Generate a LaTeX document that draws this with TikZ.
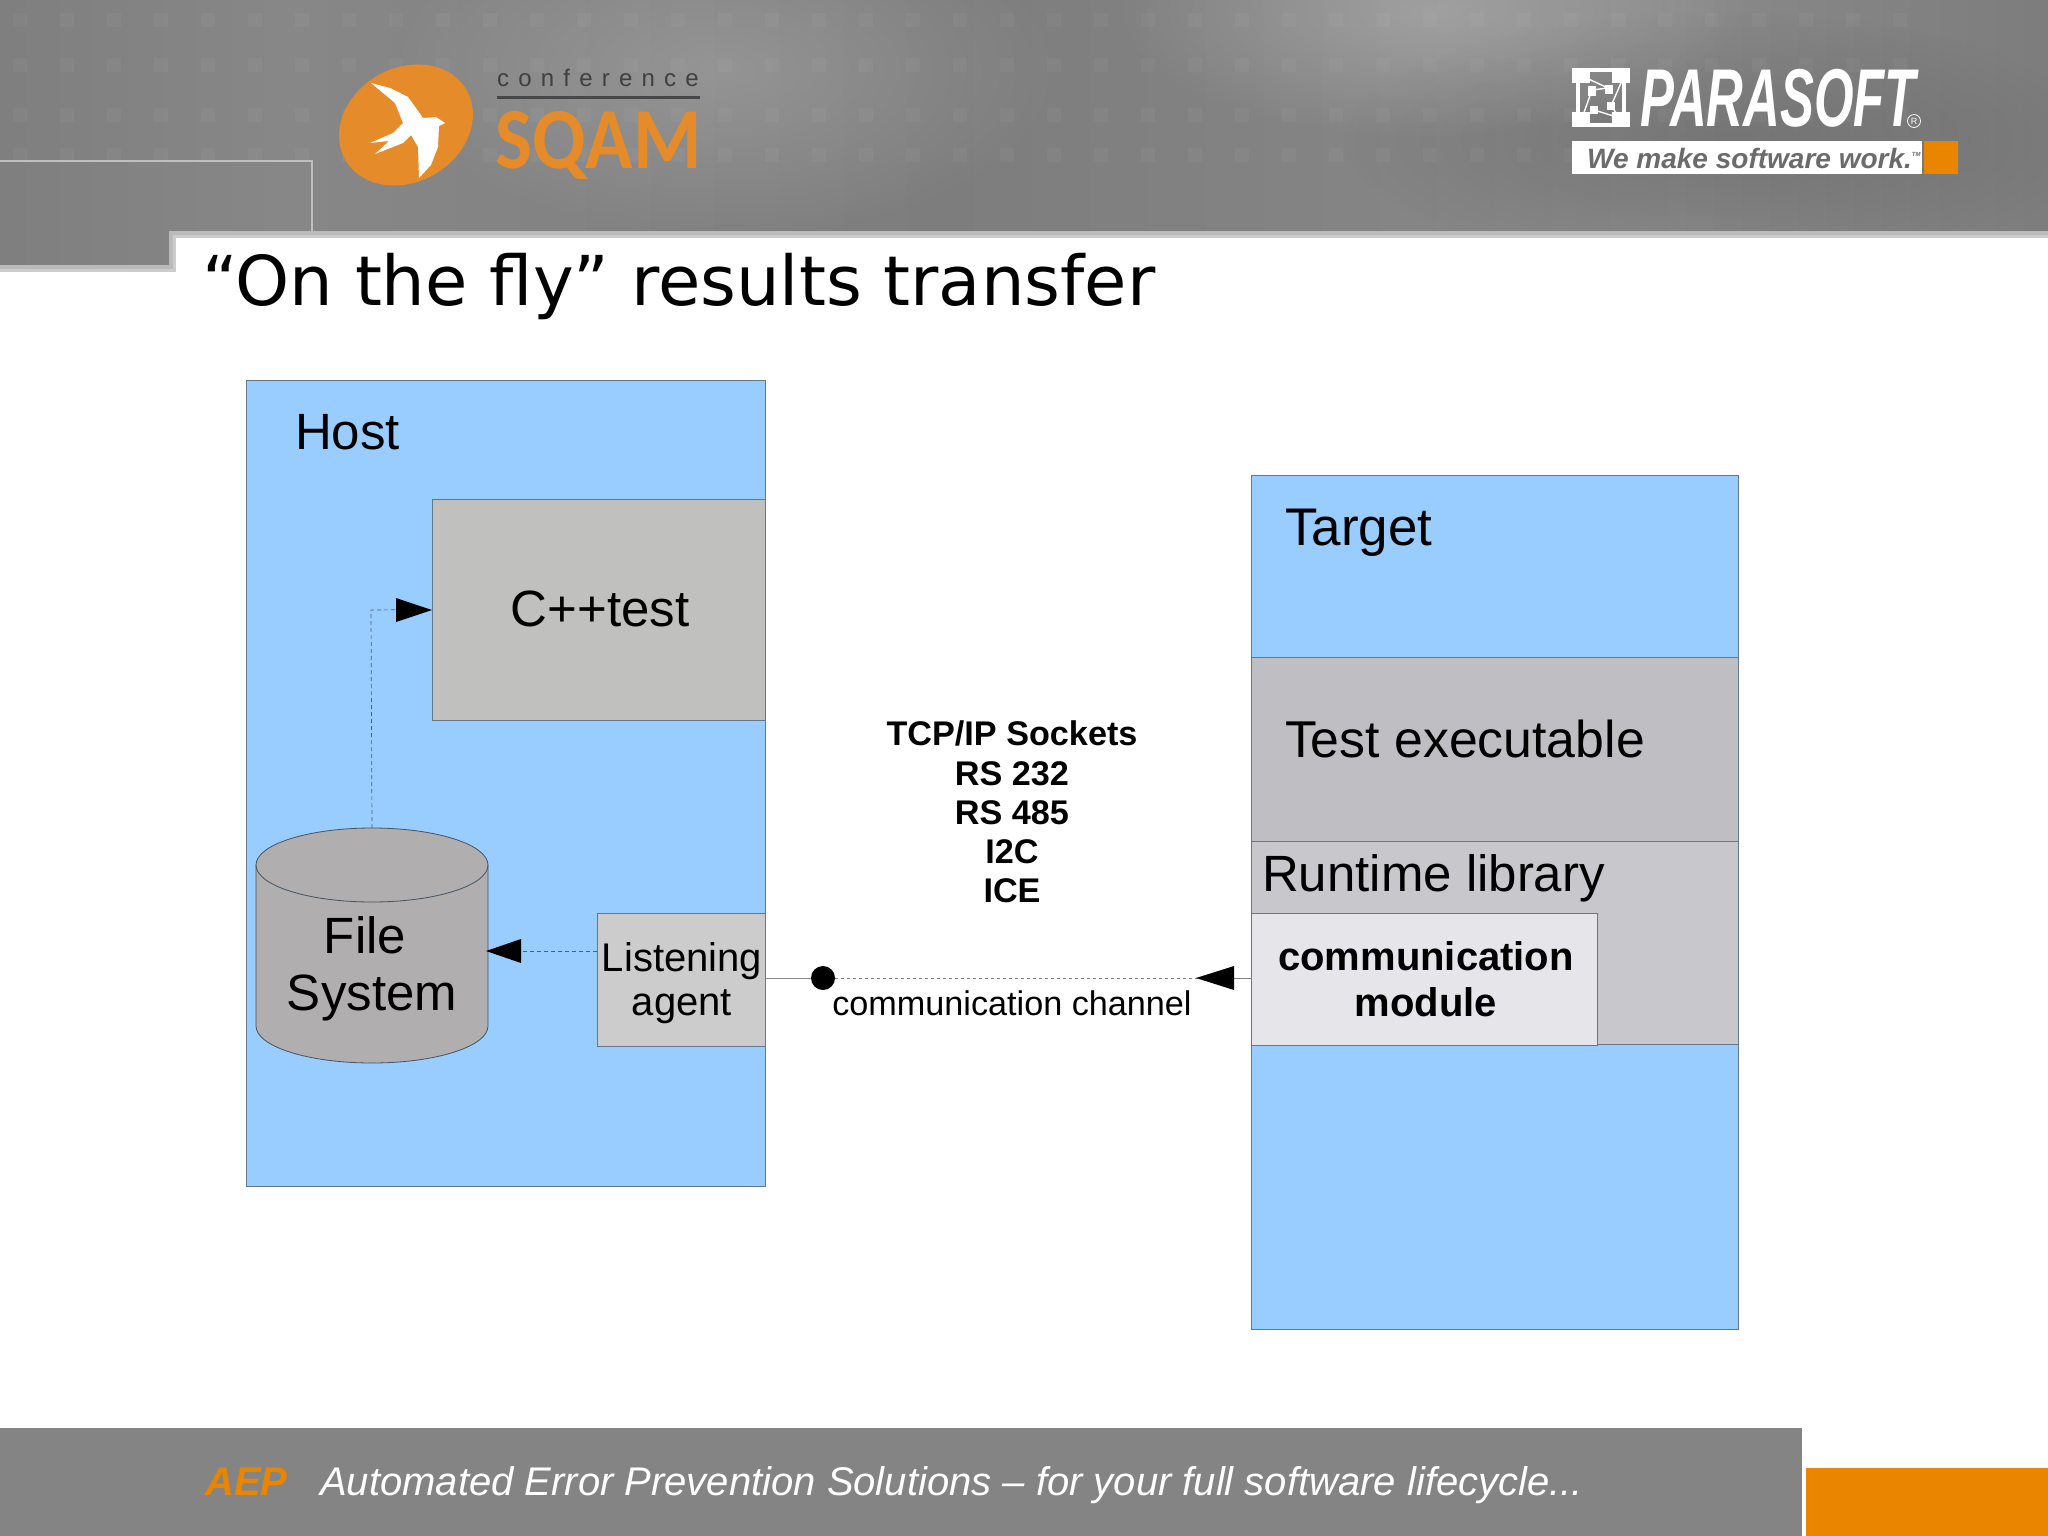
\documentclass[tikz,border=0pt]{standalone}
\usepackage{fontspec}
\setmainfont{Liberation Sans}
\newfontfamily\titlefont{DejaVu Sans}
\newfontfamily\sqamfont{Carlito}
\usetikzlibrary{shapes.geometric,arrows.meta,fadings}
\definecolor{edge}{HTML}{64788C}
\definecolor{hostblue}{HTML}{99CCFF}
\definecolor{orangeA}{HTML}{EA8500}
\definecolor{orangeB}{HTML}{E58B2A}
\definecolor{footgray}{HTML}{848484}
\definecolor{cppgray}{HTML}{C0C0BE}
\definecolor{testgray}{HTML}{BFBEC2}
\definecolor{rtgray}{HTML}{C8C8CC}
\definecolor{commgray}{HTML}{E6E6EA}
\definecolor{cylgray}{HTML}{B0AEAE}
\pgfdeclarehorizontalshading{headshade}{100bp}{
 color(0bp)=(black!57); color(15bp)=(black!55); color(32bp)=(black!47); color(48bp)=(black!51);
 color(66bp)=(black!46); color(80bp)=(black!54); color(93bp)=(black!56); color(100bp)=(black!49)}
\tikzfading[name=softblob,inner color=transparent!0,outer color=transparent!100]
\tikzset{
 box/.style={rectangle,draw=edge,line width=.8pt,inner sep=0pt,outer sep=0pt},
 lbl/.style={inner sep=0pt,outer sep=0pt,align=center,text=black},
 big/.style={lbl,font=\fontsize{51}{57.5}\selectfont},
 mid/.style={lbl,font=\fontsize{40}{44.5}\selectfont},
 flow/.style={draw=edge!80!black,line width=.7pt,dash pattern=on 4pt off 3pt},
 tipL/.style={fill=black,draw=none},
 sq/.style={fill=white,fill opacity=.035,draw=none},
}
\begin{document}
\begin{tikzpicture}[x=1pt,y=-1pt]
\useasboundingbox (0,0) rectangle (2048,1536);
\fill[white] (0,0) rectangle (2048,1536);
% header
\begin{scope}
\clip (0,0) -- (2048,0) -- (2048,232) -- (171,232) -- (171,266) -- (0,266) -- cycle;
\shade[shading=headshade] (0,0) rectangle (2048,266);
\fill[white,opacity=.22,path fading=softblob] (1430,10) ellipse (320 and 130);
\fill[white,opacity=.16,path fading=softblob] (720,70) ellipse (340 and 170);
\fill[black,opacity=.14,path fading=softblob] (1720,140) ellipse (380 and 130);
\foreach \yy in {20,65,115,155}{\foreach \xx in {20,67,...,1900}{\fill[sq] (\xx-7,\yy-7) rectangle (\xx+7,\yy+7);}}
\end{scope}
\draw[black!25,line width=1.6pt] (0,161) -- (312,161) -- (312,231);
\fill[black!20] (171,234.5) rectangle (2048,238);
\fill[black!20] (0,268.5) rectangle (176,272);
\fill[black!20] (172.5,234.5) rectangle (176,272);
\draw[black!27,line width=4pt] (0,267) -- (171,267) -- (171,232.5) -- (2048,232.5);
% SQAM logo
\fill[orangeB,rotate around={30:(406,125)}] (406,125) ellipse (70 and 57);
\fill[white] (371,83) -- (390,88) -- (408,97) -- (416,108) -- (423,118) -- (436,117) -- (445,123) -- (439,126) -- (438,147) -- (431,165) -- (419,178) -- (418,147) -- (411,135) -- (403,143) -- (375,154) -- (389,141) -- (370,143) -- (393,133) -- (403,123) -- (395,103) -- cycle;
\node[inner sep=0pt,anchor=base west,text=black!75,font=\fontsize{24}{24}\selectfont] (conf) at (497,87) {c\hspace{9.2pt}o\hspace{9.2pt}n\hspace{9.2pt}f\hspace{9.2pt}e\hspace{9.2pt}r\hspace{9.2pt}e\hspace{9.2pt}n\hspace{9.2pt}c\hspace{9.2pt}e};
\fill[black!72] (497,96.5) rectangle (700,99.5);
\node[inner sep=0pt,anchor=base west,text=orangeB,font=\sqamfont\bfseries\fontsize{87}{87}\selectfont,xscale=.9,transform shape] (sqam) at (495,168) {SQAM};
% Parasoft logo
\foreach \xx/\yy in {1572/68,1612/68,1572/112,1612/112}{\fill[white] (\xx,\yy) rectangle (\xx+18,\yy+15);}
\fill[white] (1572,68) rectangle (1630,72);
\fill[white] (1572,123) rectangle (1630,127);
\fill[white] (1576,68) rectangle (1580,127);
\fill[white] (1622,68) rectangle (1626,127);
\fill[white] (1588,86) rectangle (1596,96);
\fill[white] (1605,85) rectangle (1613,94);
\fill[white] (1607,102) rectangle (1615,110);
\fill[white] (1590,106) rectangle (1598,114);
\draw[white,line width=1.4pt] (1582,76) -- (1608,88) -- (1592,90) -- (1582,118) -- (1594,110) -- (1620,118) -- (1611,106) -- (1624,76);
\node[inner sep=0pt,anchor=base west,text=white,font=\bfseries\itshape\fontsize{82}{82}\selectfont,xscale=.62,transform shape] (para) at (1640,127) {PARASOFT};
\node[inner sep=0pt,text=white,circle,draw=white,line width=.8pt,minimum size=13] (reg) at (1914,121) {\fontsize{9}{9}\selectfont R};
\fill[white] (1572,141) rectangle (1921.5,174);
\fill[orangeA] (1923.6,141) rectangle (1957.6,174);
\node[inner sep=0pt,anchor=base west,text=black!58,font=\bfseries\itshape\fontsize{28}{30}\selectfont] (make) at (1587,168) {We make software work.\raisebox{12pt}{\fontsize{6}{6}\selectfont TM}};
% title
\node[inner sep=0pt,anchor=base west,text=black,font=\titlefont\fontsize{68.8}{68}\selectfont] (title) at (202,305) {“On the fly” results transfer};
% host
\node[box,fill=hostblue,minimum width=519.5,minimum height=806] (host) at (506,783) {};
\node[box,fill=cppgray,minimum width=333,minimum height=221] (cpp) at (599,609.5) {};
\node[big] (hostl) at (347.5,432.5) {Host};
\node[big] (cppl) at (600,609) {C++test};
\node[box,fill=black!20,minimum width=168.5,minimum height=133] (listen) at (681.25,979.5) {};
\node[mid] (listenl) at (682,983) {Listening\\agent};
% file system cylinder: fs is the named node the connectors use
\node[rectangle,inner sep=0pt,outer sep=0pt,minimum width=232,minimum height=235] (fs) at (372,945.5) {};
\draw[edge!70!black,line width=.8pt,fill=cylgray] (256,865) .. controls (256,844.6) and (308,828) .. (372,828) .. controls (436,828) and (488,844.6) .. (488,865) -- (488,1026) .. controls (488,1046.4) and (436,1063) .. (372,1063) .. controls (308,1063) and (256,1046.4) .. (256,1026) -- cycle;
\draw[edge!70!black,line width=.8pt] (256,865) .. controls (256,885.4) and (308,902) .. (372,902) .. controls (436,902) and (488,885.4) .. (488,865);
\node[big] (fsl) at (372,969) {File\hspace{14pt}\mbox{}\\System};
% target
\node[box,fill=hostblue,minimum width=487,minimum height=854] (target) at (1495,902.5) {};
\node[box,fill=testgray,minimum width=487,minimum height=184] (test) at (1495,749) {};
\node[box,fill=rtgray,minimum width=487,minimum height=203] (rt) at (1495,942.5) {};
\node[box,fill=commgray,minimum width=346,minimum height=132] (comm) at (1424.5,979) {};
\node[big,anchor=west,font=\fontsize{53}{57.5}\selectfont] (targetl) at (1285,533) {Target};
\node[big,anchor=west,font=\fontsize{51.8}{57.5}\selectfont] (testl) at (1285,739) {Test executable};
\node[big,anchor=west] (rtl) at (1262,878) {Runtime library};
\node[lbl,font=\bfseries\fontsize{40}{46}\selectfont] (comml) at (1426,979) {communication\\module};
% labels
\node[lbl,font=\bfseries\fontsize{34.2}{39.2}\selectfont] (proto) at (1012,812) {TCP/IP Sockets\\RS 232\\RS 485\\I2C\\ICE};
\node[lbl,font=\fontsize{34.2}{38}\selectfont] (chan) at (1012,1003) {communication channel};
% connectors
\node[circle,fill=black,inner sep=0pt,minimum size=24] (dot) at (823,978) {};
\coordinate (chanhead) at (1234,978);
\coordinate (bend) at (371,610);
\draw[black!45,line width=1pt] (listen.east |- dot) -- (dot);
\draw[black!50,line width=.8pt,dash pattern=on 3pt off 3pt] (dot) -- (chanhead);
\draw[black!50,line width=.8pt] (comm.west |- dot) -- (chanhead);
\fill[tipL] (1234,966) -- (1196,978) -- (1234,990) -- cycle;
\draw[flow] (fs.north) -- (bend) -- (cpp.west);
\fill[tipL] (396,598) -- (432,610) -- (396,622) -- cycle;
\coordinate (lout) at (597,951);
\draw[flow] (lout) -- (fs.east |- lout);
\fill[tipL] (521,939) -- (486,951) -- (521,963) -- cycle;
% footer
\fill[footgray] (0,1428) rectangle (1802,1536);
\fill[orangeA] (1806,1468) rectangle (2048,1536);
\node[inner sep=0pt,anchor=base west,text=orangeA,font=\bfseries\itshape\fontsize{40}{40}\selectfont] (aep) at (205,1495) {AEP};
\node[inner sep=0pt,anchor=base west,text=white,font=\itshape\fontsize{40}{40}\selectfont] (foot) at (320,1495) {Automated Error Prevention Solutions – for your full software lifecycle...};
\end{tikzpicture}
\end{document}
